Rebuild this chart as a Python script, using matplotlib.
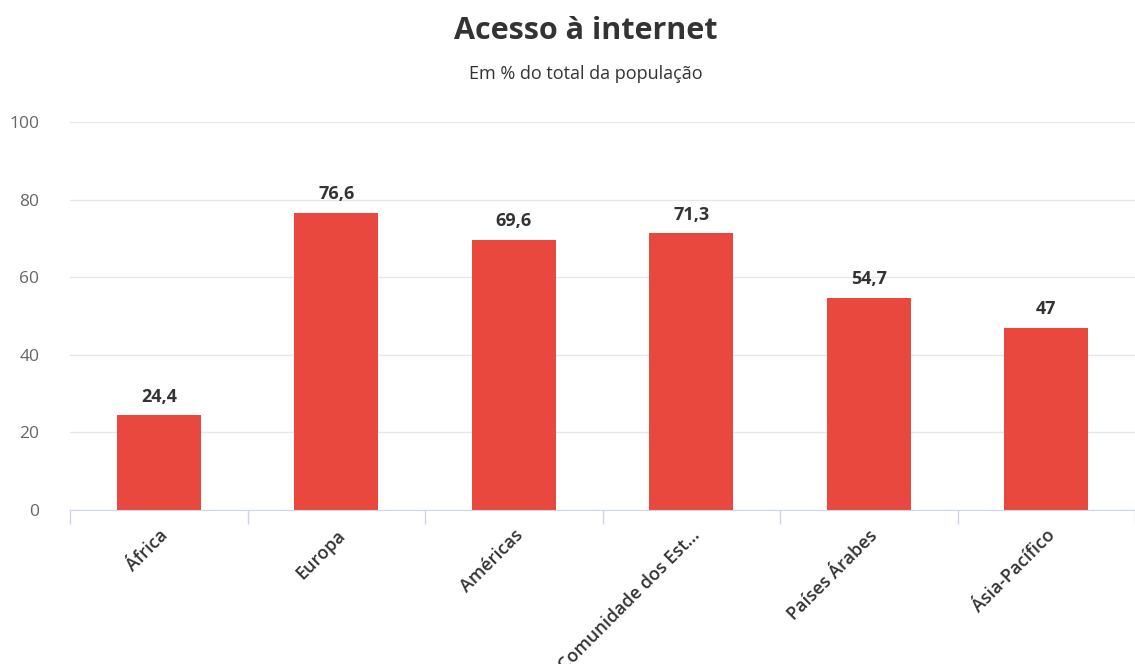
import numpy as np
import matplotlib
matplotlib.use("Agg")
import matplotlib.pyplot as plt

# data
categories = ["África", "Europa", "Américas", "Comunidade dos Est...", "Países Árabes", "Ásia-Pacífico"]
values = [24.4, 76.6, 69.6, 71.3, 54.7, 47]
value_labels = ["24,4", "76,6", "69,6", "71,3", "54,7", "47"]
y_ticks = [0, 20, 40, 60, 80, 100]

plt.rcParams['font.family'] = ['Open Sans', 'DejaVu Sans']

fig = plt.figure(figsize=(11.35, 6.64), dpi=100)
ax = fig.add_axes([0.0617, 0.232, 0.9383, 0.584])

x = np.arange(len(categories))
bars = ax.bar(x, values, width=0.475, color='#e8483d', zorder=3)

for xi, v, lab in zip(x, values, value_labels):
    ax.annotate(lab, (xi, v), xytext=(0, 7), textcoords='offset points',
                ha='center', va='bottom', fontsize=13, fontweight='bold', color='#333333')

ax.set_ylim(0, 100)
ax.set_xlim(-0.5, 5.455)
ax.set_yticks(y_ticks)
ax.set_yticklabels([str(t) for t in y_ticks], fontsize=12.5, color='#666666')
ax.tick_params(axis='y', length=0, pad=22)
ax.grid(axis='y', color='#e6e6e6', linewidth=1, zorder=0)

ax.set_xticks(x)
ax.set_xticklabels(categories, rotation=45, ha='right', rotation_mode='anchor',
                   fontsize=13, fontweight='semibold', color='#333333')
ax.tick_params(axis='x', which='major', length=0, pad=12)
ax.set_xticks(np.arange(len(categories) + 1) - 0.5, minor=True)
ax.tick_params(axis='x', which='minor', length=10, color='#ccd6eb', width=1)

for s in ['top', 'right', 'left']:
    ax.spines[s].set_visible(False)
ax.spines['bottom'].set_color('#ccd6eb')
ax.spines['bottom'].set_zorder(4)

fig.text(0.5165, 0.953, "Acesso à internet", ha='center', va='center',
         fontsize=22, fontweight='bold', color='#333333')
fig.text(0.5165, 0.888, "Em % do total da população", ha='center', va='center',
         fontsize=13, color='#333333')

fig.savefig("out.png", dpi=100)
